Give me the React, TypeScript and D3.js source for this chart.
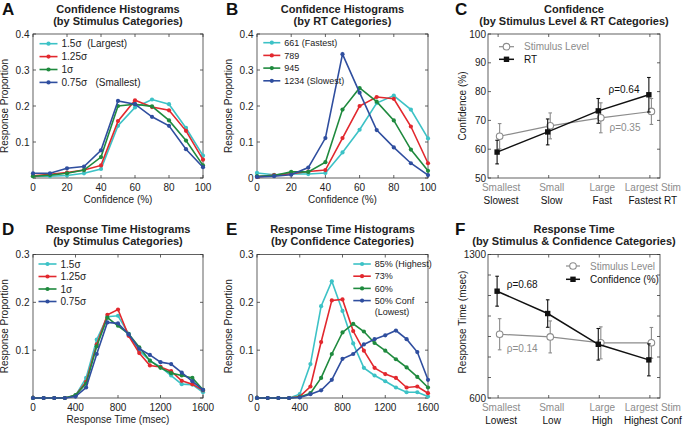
import * as d3 from "d3";

const FONT = "'Liberation Sans', Arial, Helvetica, sans-serif";
const CYAN = "#3cc2c6";
const RED = "#e2282e";
const GREEN = "#1f8a3e";
const BLUE = "#2f4e9f";
const GRAY = "#8c8c8c";
const BOX = "#3a3a3a";

// ---- histogram bins ----
const confBins = [0, 10, 20, 30, 40, 50, 60, 70, 80, 90, 100];
const rtBins = [0, 100, 200, 300, 400, 500, 600, 700, 800, 900, 1000, 1100, 1200, 1300, 1400, 1500, 1600];

// A: confidence histograms by stimulus category
const confStim150 = [0.005, 0.005, 0.007, 0.013, 0.025, 0.145, 0.196, 0.218, 0.205, 0.139, 0.062];
const confStim125 = [0.006, 0.01, 0.015, 0.022, 0.035, 0.158, 0.216, 0.197, 0.188, 0.131, 0.051];
const confStim100 = [0.005, 0.008, 0.013, 0.022, 0.058, 0.2, 0.205, 0.199, 0.16, 0.104, 0.035];
const confStim075 = [0.013, 0.013, 0.027, 0.032, 0.077, 0.214, 0.205, 0.17, 0.145, 0.08, 0.03];

// B: confidence histograms by RT category
const confRt661 = [0.014, 0.009, 0.012, 0.011, 0.014, 0.071, 0.134, 0.208, 0.229, 0.19, 0.11];
const confRt789 = [0.003, 0.008, 0.012, 0.018, 0.022, 0.111, 0.2, 0.225, 0.22, 0.143, 0.041];
const confRt945 = [0.005, 0.007, 0.017, 0.017, 0.044, 0.19, 0.25, 0.212, 0.16, 0.079, 0.02];
const confRt1234 = [0.003, 0.005, 0.009, 0.029, 0.111, 0.344, 0.237, 0.133, 0.085, 0.041, 0.008];

// D: RT histograms by stimulus category
const rtStim150 = [0, 0, 0, 0, 0.005, 0.042, 0.122, 0.17, 0.172, 0.134, 0.099, 0.078, 0.065, 0.047, 0.029, 0.028, 0.012];
const rtStim125 = [0, 0, 0, 0, 0.005, 0.034, 0.112, 0.174, 0.185, 0.13, 0.094, 0.068, 0.065, 0.056, 0.036, 0.029, 0.016];
const rtStim100 = [0, 0, 0, 0, 0.006, 0.03, 0.108, 0.168, 0.151, 0.134, 0.106, 0.078, 0.063, 0.052, 0.047, 0.042, 0.017];
const rtStim075 = [0, 0, 0, 0, 0.003, 0.022, 0.092, 0.158, 0.156, 0.133, 0.103, 0.09, 0.075, 0.071, 0.053, 0.035, 0.017];

// E: RT histograms by confidence category
const rtConf85 = [0, 0, 0, 0, 0.008, 0.071, 0.192, 0.244, 0.182, 0.114, 0.063, 0.047, 0.035, 0.022, 0.012, 0.012, 0.003];
const rtConf73 = [0, 0, 0, 0, 0.003, 0.024, 0.117, 0.204, 0.206, 0.14, 0.099, 0.063, 0.05, 0.042, 0.022, 0.024, 0.01];
const rtConf60 = [0, 0, 0, 0, 0.002, 0.01, 0.042, 0.092, 0.137, 0.155, 0.139, 0.115, 0.099, 0.081, 0.064, 0.044, 0.022];
const rtConf50 = [0, 0, 0, 0, 0.001, 0.008, 0.016, 0.038, 0.082, 0.092, 0.112, 0.123, 0.131, 0.141, 0.123, 0.096, 0.038];

// C & F: category summaries
const categories = [1, 2, 3, 4];
const stimLabels = ["Smallest", "Small", "Large", "Largest Stim"];
const rtLabels = ["Slowest", "Slow", "Fast", "Fastest RT"];
const confLabels = ["Lowest", "Low", "High", "Highest Conf"];

const confByStim = [64.5, 68.1, 70.9, 73.1];
const confByStimErr = [4.4, 4.5, 5.2, 4.5];
const confByRt = [59.0, 66.0, 73.3, 78.9];
const confByRtErr = [4.1, 4.5, 4.3, 6.0];

const rtByStim = [911, 898, 869, 869];
const rtByStimErr = [76, 78, 78, 75];
const rtByConf = [1121, 1012, 862, 786];
const rtByConfErr = [73, 67, 77, 78];

// ticks
const confXTicks = [0, 20, 40, 60, 80, 100];
const rtXTicks = [0, 400, 800, 1200, 1600];
const propTicks4 = [0, 0.1, 0.2, 0.3, 0.4];
const propTicks3 = [0, 0.1, 0.2, 0.3];
const confYTicks = [50, 60, 70, 80, 90, 100];
const rtYTicks = [600, 700, 800, 900, 1000, 1100, 1200, 1300];
const rtYTickLabels = ["600", "", "", "", "", "", "", "1300"];

type Series = { name: string; color: string; values: number[] };
type Rect = { x0: number; x1: number; y0: number; y1: number };

function Title({ cx, y, lines, letter, lx }: { cx: number; y: number; lines: string[]; letter: string; lx: number }) {
  return (
    <g fontFamily={FONT}>
      <text x={lx} y={y + 2} fontSize={17} fontWeight="bold" fill="#111">
        {letter}
      </text>
      {lines.map((l, i) => (
        <text key={i} x={cx} y={y + i * 12} textAnchor="middle" fontSize={11} fontWeight="bold" fill="#222">
          {l}
        </text>
      ))}
    </g>
  );
}

function Frame({ r, xs, ys, xTicks, yTicks }: { r: Rect; xs: (v: number) => number; ys: (v: number) => number; xTicks: number[]; yTicks: number[] }) {
  const t = 3;
  return (
    <g stroke={BOX} strokeWidth={0.8}>
      <rect x={r.x0} y={r.y0} width={r.x1 - r.x0} height={r.y1 - r.y0} fill="none" />
      {xTicks.map((v) => (
        <g key={"x" + v}>
          <line x1={xs(v)} x2={xs(v)} y1={r.y1} y2={r.y1 - t} />
          <line x1={xs(v)} x2={xs(v)} y1={r.y0} y2={r.y0 + t} />
        </g>
      ))}
      {yTicks.map((v) => (
        <g key={"y" + v}>
          <line x1={r.x0} x2={r.x0 + t} y1={ys(v)} y2={ys(v)} />
          <line x1={r.x1} x2={r.x1 - t} y1={ys(v)} y2={ys(v)} />
        </g>
      ))}
    </g>
  );
}

function HistPanel(p: {
  r: Rect;
  letter: string;
  title: string[];
  bins: number[];
  series: Series[];
  xTicks: number[];
  yTicks: number[];
  yTickLabels: string[];
  xLabel?: string;
  legend: { x: number; y: number; len: number; rowH: number; fs: number };
}) {
  const { r } = p;
  const xs = d3.scaleLinear().domain([p.bins[0], p.bins[p.bins.length - 1]]).range([r.x0, r.x1]);
  const ys = d3.scaleLinear().domain([p.yTicks[0], p.yTicks[p.yTicks.length - 1]]).range([r.y1, r.y0]);
  const line = d3
    .line<number>()
    .x((_, i) => xs(p.bins[i]))
    .y((d) => ys(d));
  const cy = (r.y0 + r.y1) / 2;
  let row = 0;
  return (
    <g>
      <Title cx={(r.x0 + r.x1) / 2} y={r.y0 - 21.5} lines={p.title} letter={p.letter} lx={r.x0 - 31} />
      <Frame r={r} xs={xs} ys={ys} xTicks={p.xTicks} yTicks={p.yTicks} />
      {p.series.map((s) => (
        <g key={s.name}>
          <path d={line(s.values) ?? ""} fill="none" stroke={s.color} strokeWidth={1.6} />
          {s.values.map((v, i) => (
            <circle key={i} cx={xs(p.bins[i])} cy={ys(v)} r={2.1} fill={s.color} />
          ))}
        </g>
      ))}
      <g fontFamily={FONT} fontSize={10} fill="#222">
        {p.xTicks.map((v) => (
          <text key={v} x={xs(v)} y={r.y1 + 12.5} textAnchor="middle">
            {v}
          </text>
        ))}
        {p.yTicks.map((v, i) => (
          <text key={v} x={r.x0 - 3.5} y={ys(v) + 3.5} textAnchor="end">
            {p.yTickLabels[i]}
          </text>
        ))}
        {p.xLabel && (
          <text x={(r.x0 + r.x1) / 2} y={r.y1 + 25} textAnchor="middle">
            {p.xLabel}
          </text>
        )}
        <text transform={`translate(${r.x0 - 25},${cy}) rotate(-90)`} textAnchor="middle">
          Response Proportion
        </text>
      </g>
      <g fontFamily={FONT} fontSize={p.legend.fs} fill="#222">
        {p.series.map((s) => {
          const lines = s.name.split("\n");
          const y = p.legend.y + row * p.legend.rowH;
          row += lines.length;
          const mx = p.legend.x + p.legend.len / 2;
          return (
            <g key={s.name}>
              <line x1={p.legend.x} x2={p.legend.x + p.legend.len} y1={y} y2={y} stroke={s.color} strokeWidth={1.6} />
              <circle cx={mx} cy={y} r={2.1} fill={s.color} />
              {lines.map((l, j) => (
                <text key={j} x={p.legend.x + p.legend.len + 4} y={y + j * p.legend.rowH * 0.9 + p.legend.fs * 0.35} style={{ whiteSpace: "pre" }}>
                  {l}
                </text>
              ))}
            </g>
          );
        })}
      </g>
    </g>
  );
}

type CatSeries = { name: string; color: string; mean: number[]; err: number[]; marker: "circle" | "square"; shift: number; width: number };

function CatPanel(p: {
  r: Rect;
  letter: string;
  title: string[];
  yTicks: number[];
  yTickLabels: string[];
  yLabel: string;
  yLabelY: number;
  series: CatSeries[];
  topLabels: string[];
  bottomLabels: string[];
  legend: { x: number; y: number; len: number; rowH: number };
  rhos: { text: string; color: string; x: number; y: number }[];
}) {
  const { r } = p;
  const xs = d3.scaleLinear().domain([0.8, 4.2]).range([r.x0, r.x1]);
  const ys = d3.scaleLinear().domain([p.yTicks[0], p.yTicks[p.yTicks.length - 1]]).range([r.y1, r.y0]);
  const marker = (s: CatSeries, x: number, y: number, k: string | number) =>
    s.marker === "circle" ? (
      <circle key={k} cx={x} cy={y} r={3.3} fill="white" stroke={s.color} strokeWidth={1.1} />
    ) : (
      <rect key={k} x={x - 2.7} y={y - 2.7} width={5.4} height={5.4} fill={s.color} />
    );
  return (
    <g>
      <Title cx={(r.x0 + r.x1) / 2} y={r.y0 - 21.5} lines={p.title} letter={p.letter} lx={r.x0 - 33} />
      <Frame r={r} xs={xs} ys={ys} xTicks={categories} yTicks={p.yTicks} />
      {p.series.map((s) => {
        const sx = (c: number) => xs(c + s.shift);
        const l2 = d3
          .line<number>()
          .x((_, i) => sx(categories[i]))
          .y((d) => ys(d));
        return (
          <g key={s.name}>
            <path d={l2(s.mean) ?? ""} fill="none" stroke={s.color} strokeWidth={s.width} />
            {s.mean.map((m, i) => {
              const x = sx(categories[i]);
              return (
                <g key={i} stroke={s.color} strokeWidth={1.1}>
                  <line x1={x} x2={x} y1={ys(m - s.err[i])} y2={ys(m + s.err[i])} />
                  <line x1={x - 1.8} x2={x + 1.8} y1={ys(m - s.err[i])} y2={ys(m - s.err[i])} />
                  <line x1={x - 1.8} x2={x + 1.8} y1={ys(m + s.err[i])} y2={ys(m + s.err[i])} />
                </g>
              );
            })}
            {s.mean.map((m, i) => marker(s, sx(categories[i]), ys(m), i))}
          </g>
        );
      })}
      <g fontFamily={FONT} fontSize={10}>
        {p.yTicks.map((v, i) => (
          <text key={v} x={r.x0 - 2} y={ys(v) + 3.5} textAnchor="end" fill="#222">
            {p.yTickLabels[i]}
          </text>
        ))}
        {categories.map((c, i) => (
          <g key={c}>
            <text x={xs(c) + 3} y={r.y1 + 12.5} textAnchor="middle" fill={GRAY}>
              {p.topLabels[i]}
            </text>
            <text x={xs(c) + 3} y={r.y1 + 25.5} textAnchor="middle" fill="#111">
              {p.bottomLabels[i]}
            </text>
          </g>
        ))}
        <text transform={`translate(${r.x0 - 22},${p.yLabelY}) rotate(-90)`} textAnchor="middle" fill="#222">
          {p.yLabel}
        </text>
        {p.rhos.map((t) => (
          <text key={t.text} x={t.x} y={t.y} fill={t.color}>
            {t.text}
          </text>
        ))}
        {p.series.map((s, i) => {
          const y = p.legend.y + i * p.legend.rowH;
          return (
            <g key={s.name}>
              <line x1={p.legend.x} x2={p.legend.x + p.legend.len} y1={y} y2={y} stroke={s.color} strokeWidth={s.width} />
              {marker(s, p.legend.x + p.legend.len / 2, y, "m")}
              <text x={p.legend.x + p.legend.len + 10} y={y + 3.5} fill={s.color === GRAY ? GRAY : "#111"}>
                {s.name}
              </text>
            </g>
          );
        })}
      </g>
    </g>
  );
}

const rectA = { x0: 33, x1: 203, y0: 34, y1: 178 };
const rectB = { x0: 257, x1: 428, y0: 34, y1: 178 };
const rectC = { x0: 488, x1: 660, y0: 34, y1: 178 };
const rectD = { x0: 33, x1: 203, y0: 254.5, y1: 398 };
const rectE = { x0: 257, x1: 428, y0: 254.5, y1: 398 };
const rectF = { x0: 488, x1: 660, y0: 254.5, y1: 398 };

export default function App() {
  return (
    <svg width={687} height={428} style={{ position: "absolute", left: 0, top: 0, background: "white" }}>
      <rect width={687} height={428} fill="white" />
      <HistPanel
        r={rectA}
        letter="A"
        title={["Confidence Histograms", "(by Stimulus Categories)"]}
        bins={confBins}
        series={[
          { name: "1.5σ  (Largest)", color: CYAN, values: confStim150 },
          { name: "1.25σ", color: RED, values: confStim125 },
          { name: "1σ", color: GREEN, values: confStim100 },
          { name: "0.75σ   (Smallest)", color: BLUE, values: confStim075 },
        ]}
        xTicks={confXTicks}
        yTicks={propTicks4}
        yTickLabels={["", "0.1", "0.2", "0.3", "0.4"]}
        xLabel="Confidence (%)"
        legend={{ x: 39.5, y: 43.7, len: 18, rowH: 12.9, fs: 10 }}
      />
      <HistPanel
        r={rectB}
        letter="B"
        title={["Confidence Histograms", "(by RT Categories)"]}
        bins={confBins}
        series={[
          { name: "661 (Fastest)", color: CYAN, values: confRt661 },
          { name: "789", color: RED, values: confRt789 },
          { name: "945", color: GREEN, values: confRt945 },
          { name: "1234 (Slowest)", color: BLUE, values: confRt1234 },
        ]}
        xTicks={confXTicks}
        yTicks={propTicks4}
        yTickLabels={["0", "0.1", "0.2", "0.3", "0.4"]}
        xLabel="Confidence (%)"
        legend={{ x: 263.3, y: 42.7, len: 17, rowH: 12.7, fs: 9 }}
      />
      <CatPanel
        r={rectC}
        letter="C"
        title={["Confidence", "(by Stimulus Level & RT Categories)"]}
        yTicks={confYTicks}
        yTickLabels={confYTicks.map(String)}
        yLabel="Confidence (%)"
        yLabelY={106}
        series={[
          { name: "Stimulus Level", color: GRAY, mean: confByStim, err: confByStimErr, marker: "circle", shift: 0.03, width: 1.2 },
          { name: "RT", color: "#111", mean: confByRt, err: confByRtErr, marker: "square", shift: -0.02, width: 1.5 },
        ]}
        topLabels={stimLabels}
        bottomLabels={rtLabels}
        legend={{ x: 499, y: 46.7, len: 15, rowH: 12.6 }}
        rhos={[
          { text: "ρ=0.64", color: "#111", x: 608.5, y: 92.5 },
          { text: "ρ=0.35", color: GRAY, x: 609.5, y: 131 },
        ]}
      />
      <HistPanel
        r={rectD}
        letter="D"
        title={["Response Time Histograms", "(by Stimulus Categories)"]}
        bins={rtBins}
        series={[
          { name: "1.5σ", color: CYAN, values: rtStim150 },
          { name: "1.25σ", color: RED, values: rtStim125 },
          { name: "1σ", color: GREEN, values: rtStim100 },
          { name: "0.75σ", color: BLUE, values: rtStim075 },
        ]}
        xTicks={rtXTicks}
        yTicks={propTicks3}
        yTickLabels={["", "0.1", "0.2", "0.3"]}
        xLabel="Response Time (msec)"
        legend={{ x: 38.5, y: 264, len: 18, rowH: 12.5, fs: 10 }}
      />
      <HistPanel
        r={rectE}
        letter="E"
        title={["Response Time Histograms", "(by Confidence Categories)"]}
        bins={rtBins}
        series={[
          { name: "85% (Highest)", color: CYAN, values: rtConf85 },
          { name: "73%", color: RED, values: rtConf73 },
          { name: "60%", color: GREEN, values: rtConf60 },
          { name: "50% Conf\n(Lowest)", color: BLUE, values: rtConf50 },
        ]}
        xTicks={rtXTicks}
        yTicks={propTicks3}
        yTickLabels={["0", "0.1", "0.2", "0.3"]}
        legend={{ x: 353.3, y: 264, len: 17.5, rowH: 12.2, fs: 9 }}
      />
      <CatPanel
        r={rectF}
        letter="F"
        title={["Response Time", "(by Stimulus & Confidence Categories)"]}
        yTicks={rtYTicks}
        yTickLabels={rtYTickLabels}
        yLabel="Response Time (msec)"
        yLabelY={322}
        series={[
          { name: "Stimulus Level", color: GRAY, mean: rtByStim, err: rtByStimErr, marker: "circle", shift: 0.03, width: 1.2 },
          { name: "Confidence (%)", color: "#111", mean: rtByConf, err: rtByConfErr, marker: "square", shift: -0.02, width: 1.5 },
        ]}
        topLabels={stimLabels}
        bottomLabels={confLabels}
        legend={{ x: 566, y: 266, len: 14, rowH: 13.3 }}
        rhos={[
          { text: "ρ=0.68", color: "#111", x: 506.7, y: 287.5 },
          { text: "ρ=0.14", color: GRAY, x: 506.7, y: 352 },
        ]}
      />
    </svg>
  );
}
